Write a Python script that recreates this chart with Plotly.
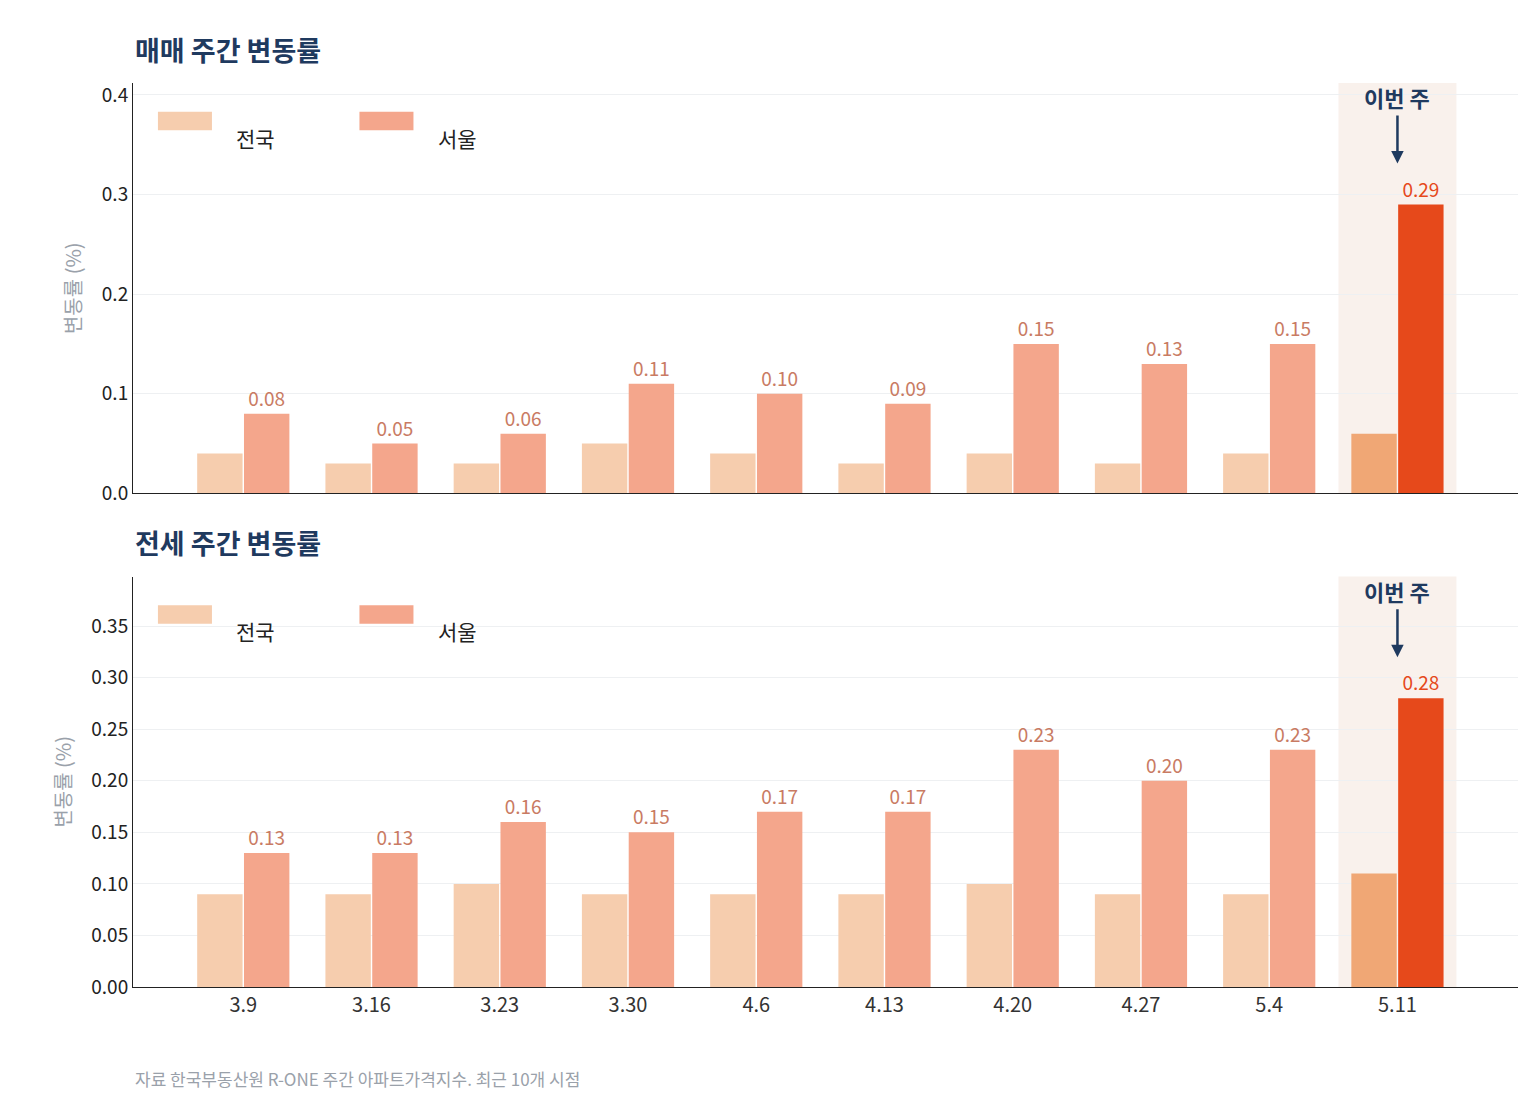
import plotly.graph_objects as go
from plotly.subplots import make_subplots

weeks = ["3.9","3.16","3.23","3.30","4.6","4.13","4.20","4.27","5.4","5.11"]
sale_nation = [0.04,0.03,0.03,0.05,0.04,0.03,0.04,0.03,0.04,0.06]
sale_seoul = [0.08,0.05,0.06,0.11,0.10,0.09,0.15,0.13,0.15,0.29]
rent_nation = [0.09,0.09,0.10,0.09,0.09,0.09,0.10,0.09,0.09,0.11]
rent_seoul = [0.13,0.13,0.16,0.15,0.17,0.17,0.23,0.20,0.23,0.28]
titles = ["매매 주간 변동률", "전세 주간 변동률"]

FONT = "Noto Sans CJK KR"
C_N, C_S, C_NH, C_SH = "#F6CDAE", "#F4A68C", "#F0A775", "#E6491B"
NAVY = "#1F3A5F"

fig = make_subplots(rows=2, cols=1, vertical_spacing=0.092)
x = list(range(len(weeks)))
last = len(weeks) - 1
for r, (n, s, ymax, dt, fmt) in enumerate([(sale_nation, sale_seoul, 0.412, 0.1, ".1f"),
                                            (rent_nation, rent_seoul, 0.398, 0.05, ".2f")], start=1):
    fig.add_trace(go.Bar(x=x, y=n, marker_color=[C_N]*last + [C_NH], marker_line_width=0,
                         showlegend=False, hoverinfo="skip"), row=r, col=1)
    fig.add_trace(go.Bar(x=x, y=s, marker_color=[C_S]*last + [C_SH], marker_line_width=0,
                         text=[f"{v:.2f}" for v in s], textposition="outside", cliponaxis=False,
                         textfont=dict(family=FONT, size=19, color=["#C97B63"]*last + [C_SH]),
                         showlegend=False, hoverinfo="skip"), row=r, col=1)
    xr = "x" if r == 1 else "x2"
    yr = "y" if r == 1 else "y2"
    fig.add_shape(type="rect", xref=xr, yref=yr + " domain", x0=last-0.46, x1=last+0.46, y0=0, y1=1,
                  fillcolor="#F9F1EC", line_width=0, layer="below")
    # legend
    for i, (lab, col) in enumerate([("전국", C_N), ("서울", C_S)]):
        x0 = 0.018 + i*0.1455
        fig.add_shape(type="rect", xref=xr + " domain", yref=yr + " domain", x0=x0, x1=x0+0.039,
                      y0=0.885, y1=0.93, fillcolor=col, line_width=0)
        fig.add_annotation(xref=xr + " domain", yref=yr + " domain", x=x0+0.055, y=0.908, text=lab,
                           showarrow=False, xanchor="left", font=dict(family=FONT, size=21, color="#222"))
    fig.add_annotation(xref=xr, yref=yr, x=last, y=s[-1] + ymax*0.10, text="<b>이번 주</b>",
                       showarrow=True, arrowhead=2, arrowsize=1, arrowwidth=2.5, arrowcolor=NAVY,
                       ax=0, ay=-48, yanchor="bottom", font=dict(family=FONT, size=22, color=NAVY))
    fig.add_annotation(xref=xr + " domain", yref=yr + " domain", x=0, y=1.03, text=f"<b>{titles[r-1]}</b>",
                       showarrow=False, xanchor="left", yanchor="bottom",
                       font=dict(family=FONT, size=27, color=NAVY))
    fig.update_yaxes(row=r, col=1, range=[0, ymax], dtick=dt, tickformat=fmt, showgrid=True,
                     gridcolor="#EEF0F2", showline=True, linecolor="#222", zeroline=False,
                     ticks="", tickfont=dict(family=FONT, size=19, color="#222"),
                     title=dict(text="변동률 (%)", font=dict(family=FONT, size=20, color="#9AA1AA"), standoff=14))
    fig.update_xaxes(row=r, col=1, range=[-0.86, 9.94], tickvals=x,
                     ticktext=weeks if r == 2 else None, showticklabels=(r == 2), showline=True,
                     linecolor="#222", showgrid=False, ticks="",
                     tickfont=dict(family=FONT, size=20, color="#333"))

fig.add_annotation(xref="paper", yref="paper", x=0, y=-0.085, text="자료 한국부동산원 R-ONE 주간 아파트가격지수. 최근 10개 시점",
                   showarrow=False, xanchor="left", yanchor="top", font=dict(family=FONT, size=17, color="#9AA1AA"))
fig.update_layout(width=1540, height=1104, margin=dict(l=125, r=30, t=75, b=125),
                  plot_bgcolor="white", paper_bgcolor="white", barmode="group",
                  bargap=0.27, bargroupgap=0.03, font=dict(family=FONT))
fig.write_html("out.html")
